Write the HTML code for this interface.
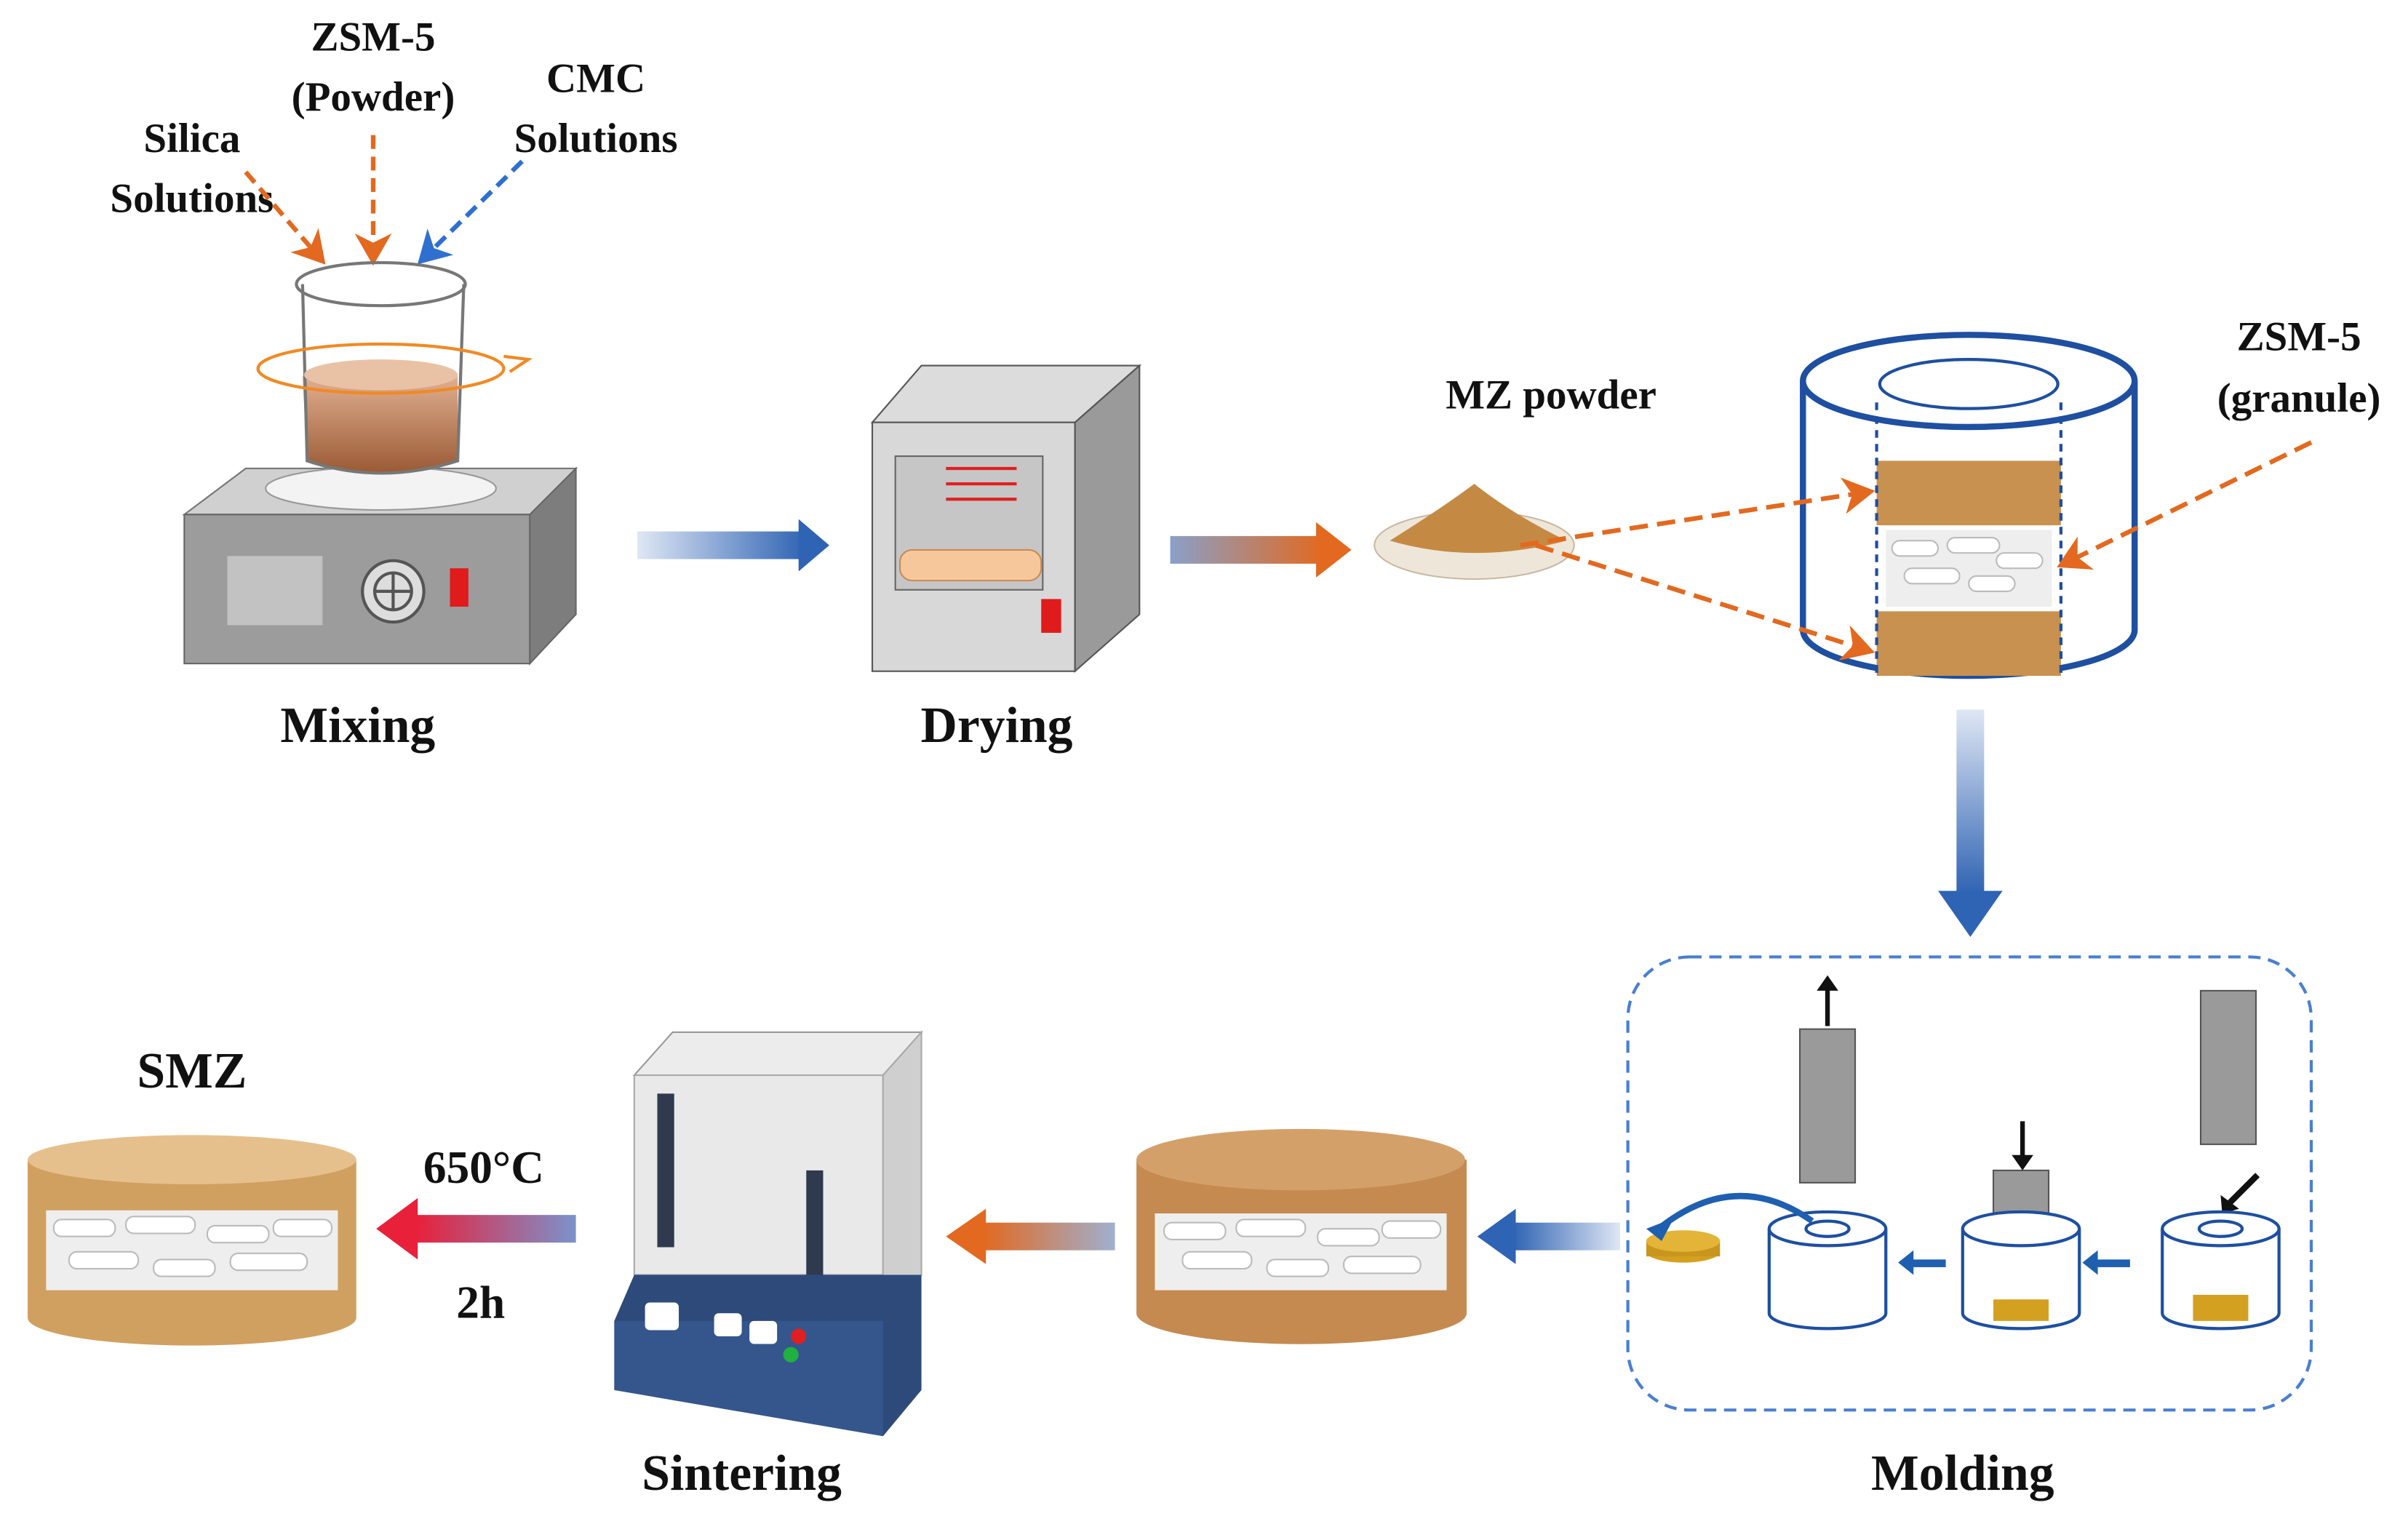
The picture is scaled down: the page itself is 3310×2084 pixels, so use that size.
<!DOCTYPE html>
<html><head><meta charset="utf-8"><style>
html,body{margin:0;padding:0;background:#fff;}
svg{display:block;}
text{font-family:"Liberation Serif",serif;font-weight:bold;fill:#111;}
</style></head><body>
<svg width="3310" height="2084" viewBox="0 0 1568 987" preserveAspectRatio="none" xmlns="http://www.w3.org/2000/svg">
<defs>
<linearGradient id="gb" x1="0" x2="1"><stop offset="0" stop-color="#dfe7f4"/><stop offset="1" stop-color="#2f63b3"/></linearGradient>
<linearGradient id="gbL" x1="1" x2="0"><stop offset="0" stop-color="#dfe7f4"/><stop offset="1" stop-color="#2f63b3"/></linearGradient>
<linearGradient id="gbD" x1="0" y1="0" x2="0" y2="1"><stop offset="0" stop-color="#dfe7f4"/><stop offset="1" stop-color="#2f63b3"/></linearGradient>
<linearGradient id="go" x1="0" x2="1"><stop offset="0" stop-color="#8aa0c8"/><stop offset="1" stop-color="#e2691f"/></linearGradient>
<linearGradient id="goL" x1="1" x2="0"><stop offset="0" stop-color="#9fb0d0"/><stop offset="1" stop-color="#e2691f"/></linearGradient>
<linearGradient id="gr" x1="1" x2="0"><stop offset="0" stop-color="#7b92cc"/><stop offset="1" stop-color="#e8203a"/></linearGradient>
<linearGradient id="liq" x1="0" y1="0" x2="0" y2="1"><stop offset="0" stop-color="#e8b89a"/><stop offset="1" stop-color="#9a5a34"/></linearGradient>
<marker id="ao" markerWidth="8" markerHeight="8" refX="6" refY="4" orient="auto" markerUnits="strokeWidth"><path d="M0,0 L7,4 L0,8 L2,4z" fill="#e2691f"/></marker>
<marker id="ab" markerWidth="8" markerHeight="8" refX="6" refY="4" orient="auto" markerUnits="strokeWidth"><path d="M0,0 L7,4 L0,8 L2,4z" fill="#2f6fd0"/></marker>
</defs>

<text x="243" y="33" font-size="27" text-anchor="middle">ZSM-5</text>
<text x="243" y="72" font-size="27" text-anchor="middle">(Powder)</text>
<text x="125" y="99" font-size="27" text-anchor="middle">Silica</text>
<text x="125" y="138" font-size="27" text-anchor="middle">Solutions</text>
<text x="388" y="60" font-size="27" text-anchor="middle">CMC</text>
<text x="388" y="99" font-size="27" text-anchor="middle">Solutions</text>
<line x1="160" y1="112" x2="210" y2="170" stroke="#e2691f" stroke-width="3" stroke-dasharray="9,5" marker-end="url(#ao)"/>
<line x1="243" y1="88" x2="243" y2="170" stroke="#e2691f" stroke-width="3" stroke-dasharray="9,5" marker-end="url(#ao)"/>
<line x1="340" y1="105" x2="274" y2="170" stroke="#2f6fd0" stroke-width="3" stroke-dasharray="9,5" marker-end="url(#ab)"/>

<polygon points="120,335 160,305 375,305 345,335" fill="#d0d0d0" stroke="#777"/>
<rect x="120" y="335" width="225" height="97" fill="#9c9c9c" stroke="#666"/>
<polygon points="345,335 375,305 375,400 345,432" fill="#7d7d7d" stroke="#666"/>
<rect x="148" y="362" width="62" height="45" fill="#c2c2c2"/>
<circle cx="256" cy="385" r="20" fill="#ddd" stroke="#555" stroke-width="2"/>
<circle cx="256" cy="385" r="12" fill="none" stroke="#555" stroke-width="2"/>
<line x1="244" y1="385" x2="268" y2="385" stroke="#555" stroke-width="2"/><line x1="256" y1="373" x2="256" y2="397" stroke="#555" stroke-width="2"/>
<rect x="293" y="370" width="12" height="25" fill="#e01b1b"/>
<ellipse cx="248" cy="318" rx="75" ry="14" fill="#f3f3f3" stroke="#999"/>
<path d="M197,245 Q248,232 298,245 L298,300 Q248,316 200,300z" fill="url(#liq)"/>
<path d="M197,185 L200,300 Q248,316 298,300 L302,185" fill="none" stroke="#777" stroke-width="2"/>
<ellipse cx="248" cy="185" rx="55" ry="14" fill="none" stroke="#777" stroke-width="2"/>
<ellipse cx="248" cy="244" rx="50" ry="10" fill="#e9c2a6"/>
<ellipse cx="248" cy="240" rx="80" ry="16" fill="none" stroke="#f08a24" stroke-width="2"/>
<path d="M328,232 l16,2 l-12,8" fill="none" stroke="#f08a24" stroke-width="2"/>
<text x="233" y="483" font-size="33" text-anchor="middle">Mixing</text>

<rect x="415" y="346" width="110" height="18" fill="url(#gb)"/><polygon points="520,338 540,355 520,372" fill="#2f63b3"/>

<polygon points="568,275 600,238 742,238 700,275" fill="#dcdcdc" stroke="#555"/>
<rect x="568" y="275" width="132" height="162" fill="#d8d8d8" stroke="#555"/>
<polygon points="700,275 742,238 742,400 700,437" fill="#9a9a9a" stroke="#555"/>
<rect x="583" y="297" width="96" height="87" fill="#c6c6c6" stroke="#666"/>
<line x1="616" y1="305" x2="662" y2="305" stroke="#e02020" stroke-width="2"/><line x1="616" y1="315" x2="662" y2="315" stroke="#e02020" stroke-width="2"/><line x1="616" y1="325" x2="662" y2="325" stroke="#e02020" stroke-width="2"/>
<rect x="586" y="358" width="92" height="20" rx="8" fill="#f6c79a" stroke="#c98a55"/>
<rect x="678" y="390" width="13" height="22" fill="#e01b1b"/>
<text x="649" y="483" font-size="33" text-anchor="middle">Drying</text>

<rect x="762" y="349" width="100" height="18" fill="url(#go)"/><polygon points="857,340 880,358 857,376" fill="#e2691f"/>

<text x="1010" y="266" font-size="27" text-anchor="middle">MZ  powder</text>
<ellipse cx="960" cy="355" rx="65" ry="22" fill="#efe6da" stroke="#c9b9a2"/>
<path d="M905,352 Q940,330 960,315 Q985,335 1020,352 Q960,368 905,352z" fill="#c48a44"/>
<text x="1497" y="228" font-size="27" text-anchor="middle">ZSM-5</text>
<text x="1497" y="268" font-size="27" text-anchor="middle">(granule)</text>

<path d="M1174,248 L1174,410 A108,30 0 0 0 1390,410 L1390,248" fill="#fff" stroke="#1e4fa0" stroke-width="4"/>
<ellipse cx="1282" cy="248" rx="108" ry="30" fill="#fff" stroke="#1e4fa0" stroke-width="4"/>
<ellipse cx="1282" cy="250" rx="58" ry="16" fill="none" stroke="#1e4fa0" stroke-width="2"/>
<rect x="1222" y="300" width="120" height="42" fill="#c8914f"/>
<rect x="1228" y="345" width="108" height="50" fill="#eee"/>
<g fill="#fff" stroke="#bbb"><rect x="1232" y="352" width="30" height="10" rx="5"/><rect x="1268" y="350" width="34" height="10" rx="5"/><rect x="1300" y="360" width="30" height="10" rx="5"/><rect x="1240" y="370" width="36" height="10" rx="5"/><rect x="1282" y="375" width="30" height="10" rx="5"/></g>
<rect x="1222" y="398" width="120" height="42" fill="#c8914f"/>
<line x1="1222" y1="262" x2="1222" y2="440" stroke="#1e4fa0" stroke-width="2" stroke-dasharray="5,4"/>
<line x1="1342" y1="262" x2="1342" y2="440" stroke="#1e4fa0" stroke-width="2" stroke-dasharray="5,4"/>

<line x1="990" y1="355" x2="1218" y2="320" stroke="#e2691f" stroke-width="3" stroke-dasharray="12,6" marker-end="url(#ao)"/>
<line x1="1000" y1="355" x2="1218" y2="424" stroke="#e2691f" stroke-width="3" stroke-dasharray="12,6" marker-end="url(#ao)"/>
<line x1="1505" y1="288" x2="1342" y2="368" stroke="#e2691f" stroke-width="3" stroke-dasharray="12,6" marker-end="url(#ao)"/>

<rect x="1274" y="462" width="18" height="120" fill="url(#gbD)"/><polygon points="1262,580 1304,580 1283,610" fill="#2f63b3"/>

<rect x="1060" y="623" width="445" height="295" rx="40" fill="none" stroke="#4a7fd0" stroke-width="2" stroke-dasharray="8,5"/>
<text x="1278" y="970" font-size="33" text-anchor="middle">Molding</text>
<g stroke="#555">
<rect x="1172" y="670" width="36" height="100" fill="#9a9a9a"/>
<rect x="1433" y="645" width="36" height="100" fill="#9a9a9a"/>
<rect x="1298" y="762" width="36" height="36" fill="#9a9a9a"/>
</g>
<line x1="1190" y1="668" x2="1190" y2="640" stroke="#111" stroke-width="3"/><polygon points="1183,645 1190,635 1197,645" fill="#111"/>
<line x1="1317" y1="730" x2="1317" y2="756" stroke="#111" stroke-width="3"/><polygon points="1310,752 1317,762 1324,752" fill="#111"/>
<line x1="1470" y1="765" x2="1452" y2="783" stroke="#111" stroke-width="4"/><polygon points="1446,778 1447,790 1458,787" fill="#111"/>
<g fill="#fff" stroke="#1e4fa0" stroke-width="2">
<path d="M1152,800 L1152,855 A38,10 0 0 0 1228,855 L1228,800"/><ellipse cx="1190" cy="800" rx="38" ry="11"/><ellipse cx="1190" cy="800" rx="14" ry="5"/>
<path d="M1278,800 L1278,855 A38,10 0 0 0 1354,855 L1354,800"/><ellipse cx="1316" cy="800" rx="38" ry="11"/>
<path d="M1408,800 L1408,855 A38,10 0 0 0 1484,855 L1484,800"/><ellipse cx="1446" cy="800" rx="38" ry="11"/><ellipse cx="1446" cy="800" rx="14" ry="5"/>
</g>
<rect x="1298" y="846" width="36" height="14" fill="#d4a020"/>
<rect x="1428" y="843" width="36" height="17" fill="#d4a020"/>
<ellipse cx="1096" cy="815" rx="24" ry="7" fill="#d4a020"/><rect x="1072" y="808" width="48" height="10" fill="#c8961c"/><ellipse cx="1096" cy="808" rx="24" ry="7" fill="#e4b438"/>
<path d="M1080,800 Q1130,760 1180,795" fill="none" stroke="#1e5fb0" stroke-width="4"/><polygon points="1072,800 1090,793 1082,808" fill="#1e5fb0"/>
<rect x="1363" y="820" width="24" height="5" fill="#1e5fb0"/><polygon points="1366,814 1356,822 1366,830" fill="#1e5fb0"/>
<rect x="1243" y="820" width="24" height="5" fill="#1e5fb0"/><polygon points="1246,814 1236,822 1246,830" fill="#1e5fb0"/>

<rect x="985" y="796" width="70" height="18" fill="url(#gbL)"/><polygon points="987,787 962,805 987,823" fill="#2f63b3"/>

<path d="M740,755 L740,855 A107,20 0 0 0 955,855 L955,755z" fill="#c48a50"/>
<ellipse cx="847" cy="755" rx="107" ry="20" fill="#d4a06a"/>
<rect x="752" y="790" width="190" height="50" fill="#eee"/>
<g fill="#fff" stroke="#bbb"><rect x="758" y="796" width="40" height="11" rx="5"/><rect x="805" y="794" width="45" height="11" rx="5"/><rect x="858" y="800" width="40" height="11" rx="5"/><rect x="900" y="795" width="38" height="11" rx="5"/><rect x="770" y="815" width="45" height="11" rx="5"/><rect x="825" y="820" width="40" height="11" rx="5"/><rect x="875" y="818" width="50" height="11" rx="5"/></g>

<rect x="640" y="796" width="86" height="18" fill="url(#goL)"/><polygon points="642,787 616,805 642,823" fill="#e2691f"/>

<polygon points="413,700 438,672 600,672 575,700" fill="#ececec" stroke="#999"/>
<rect x="413" y="700" width="162" height="130" fill="#e9e9e9" stroke="#aaa"/>
<polygon points="575,700 600,672 600,830 575,850" fill="#cfcfcf" stroke="#aaa"/>
<rect x="428" y="712" width="11" height="100" fill="#2f3a4e"/><rect x="525" y="762" width="11" height="75" fill="#2f3a4e"/>
<polygon points="400,860 413,830 575,830 600,830 600,905 575,935 400,905" fill="#2d4a7a"/>
<polygon points="400,860 575,860 575,935 400,905" fill="#34568c"/>
<rect x="420" y="848" width="22" height="18" rx="3" fill="#fff"/><rect x="465" y="855" width="18" height="15" rx="3" fill="#fff"/><rect x="488" y="860" width="18" height="15" rx="3" fill="#fff"/>
<circle cx="520" cy="870" r="5" fill="#e02020"/><circle cx="515" cy="882" r="5" fill="#20b040"/>
<text x="483" y="970" font-size="33" text-anchor="middle">Sintering</text>

<rect x="270" y="791" width="105" height="18" fill="url(#gr)"/><polygon points="272,780 245,800 272,820" fill="#e8203a"/>
<text x="315" y="770" font-size="30" text-anchor="middle">650°C</text>
<text x="313" y="858" font-size="30" text-anchor="middle">2h</text>

<text x="125" y="708" font-size="33" text-anchor="middle">SMZ</text>
<path d="M18,755 L18,858 A107,18 0 0 0 232,858 L232,755z" fill="#d0a060"/>
<ellipse cx="125" cy="755" rx="107" ry="16" fill="#e6c08c"/>
<rect x="30" y="788" width="190" height="52" fill="#eee"/>
<g fill="#fff" stroke="#bbb"><rect x="35" y="794" width="40" height="11" rx="5"/><rect x="82" y="792" width="45" height="11" rx="5"/><rect x="135" y="798" width="40" height="11" rx="5"/><rect x="178" y="794" width="38" height="11" rx="5"/><rect x="45" y="815" width="45" height="11" rx="5"/><rect x="100" y="820" width="40" height="11" rx="5"/><rect x="150" y="816" width="50" height="11" rx="5"/></g>
</svg>
</body></html>
